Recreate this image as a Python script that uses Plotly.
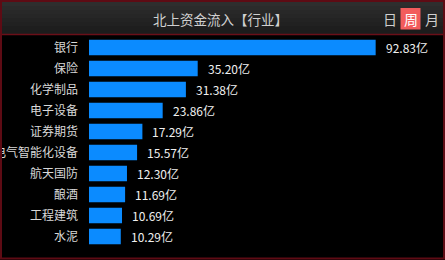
import plotly.graph_objects as go

categories = ["银行", "保险", "化学制品", "电子设备", "证券期货", "电气智能化设备",
              "航天国防", "酿酒", "工程建筑", "水泥"]
values = [92.83, 35.20, 31.38, 23.86, 17.29, 15.57, 12.30, 11.69, 10.69, 10.29]
value_labels = ["92.83亿", "35.20亿", "31.38亿", "23.86亿", "17.29亿", "15.57亿",
                "12.30亿", "11.69亿", "10.69亿", "10.29亿"]
title_text = "北上资金流入【行业】"
period_tabs = ["日", "周", "月"]

W, H = 445, 260
ML, MR, MT, MB = 89, 26, 37, 13
PW, PH = W - ML - MR, H - MT - MB
FONT = "Noto Sans CJK SC"


def px(x):
    return (x - ML) / PW


def py(y):
    return (H - MB - y) / PH


fig = go.Figure()
fig.add_trace(go.Bar(
    x=values, y=categories, orientation="h",
    marker=dict(color="#0b8bff", line=dict(width=0)),
    hoverinfo="skip",
))

annotations = []
for c, v, t in zip(categories, values, value_labels):
    annotations.append(dict(x=v, y=c, xref="x", yref="y", text=t, showarrow=False,
                            xanchor="left", yanchor="middle", xshift=8,
                            font=dict(family=FONT, size=12, color="#f0f0f0")))

shapes = []
# header gradient
top, bot = 2, 34
n = 8
for i in range(n):
    y0 = top + (bot - top) * i / n
    y1 = top + (bot - top) * (i + 1) / n
    g = int(0x2e - (0x2e - 0x1c) * i / (n - 1))
    col = f"rgb({g},{g},{g})"
    shapes.append(dict(type="rect", xref="paper", yref="paper",
                       x0=px(2), x1=px(443), y0=py(y1), y1=py(y0),
                       fillcolor=col, line=dict(width=0), layer="below"))
# header bottom line
shapes.append(dict(type="line", xref="paper", yref="paper",
                   x0=px(1), x1=px(444), y0=py(34.5), y1=py(34.5),
                   line=dict(color="#6a0f18", width=1.5)))
# 周 box
shapes.append(dict(type="rect", xref="paper", yref="paper",
                   x0=px(400.5), x1=px(420.5), y0=py(29.5), y1=py(8),
                   fillcolor="#f25c5c", line=dict(width=0)))
# outer frame
shapes.append(dict(type="rect", xref="paper", yref="paper",
                   x0=px(1), x1=px(444), y0=py(258.5), y1=py(1),
                   fillcolor="rgba(0,0,0,0)", line=dict(color="#5e0b14", width=2)))

annotations.append(dict(x=px(220), y=py(19), xref="paper", yref="paper",
                        text=title_text, showarrow=False, xanchor="center", yanchor="middle",
                        font=dict(family=FONT, size=13.5, color="#d0d0d0")))
for t, xc in zip(period_tabs, [390, 410.5, 432]):
    annotations.append(dict(x=px(xc), y=py(18.5), xref="paper", yref="paper",
                            text=t, showarrow=False, xanchor="center", yanchor="middle",
                            font=dict(family=FONT, size=14,
                                      color="#ffffff" if t == "周" else "#cfcfcf")))

fig.update_layout(
    width=W, height=H,
    margin=dict(l=ML, r=MR, t=MT, b=MB, pad=0),
    paper_bgcolor="#000000", plot_bgcolor="#000000",
    showlegend=False, bargap=0.26,
    xaxis=dict(range=[0, PW / 3.088], visible=False, fixedrange=True),
    yaxis=dict(autorange=False, range=[len(categories) - 0.5, -0.5],
               showgrid=False, zeroline=False, showline=False, ticks="",
               automargin=False, ticklabelstandoff=10,
               tickfont=dict(family=FONT, size=12, color="#d8d8d8"),
               fixedrange=True),
    annotations=annotations, shapes=shapes,
)

fig.write_html("out.html", config={"displayModeBar": False})
